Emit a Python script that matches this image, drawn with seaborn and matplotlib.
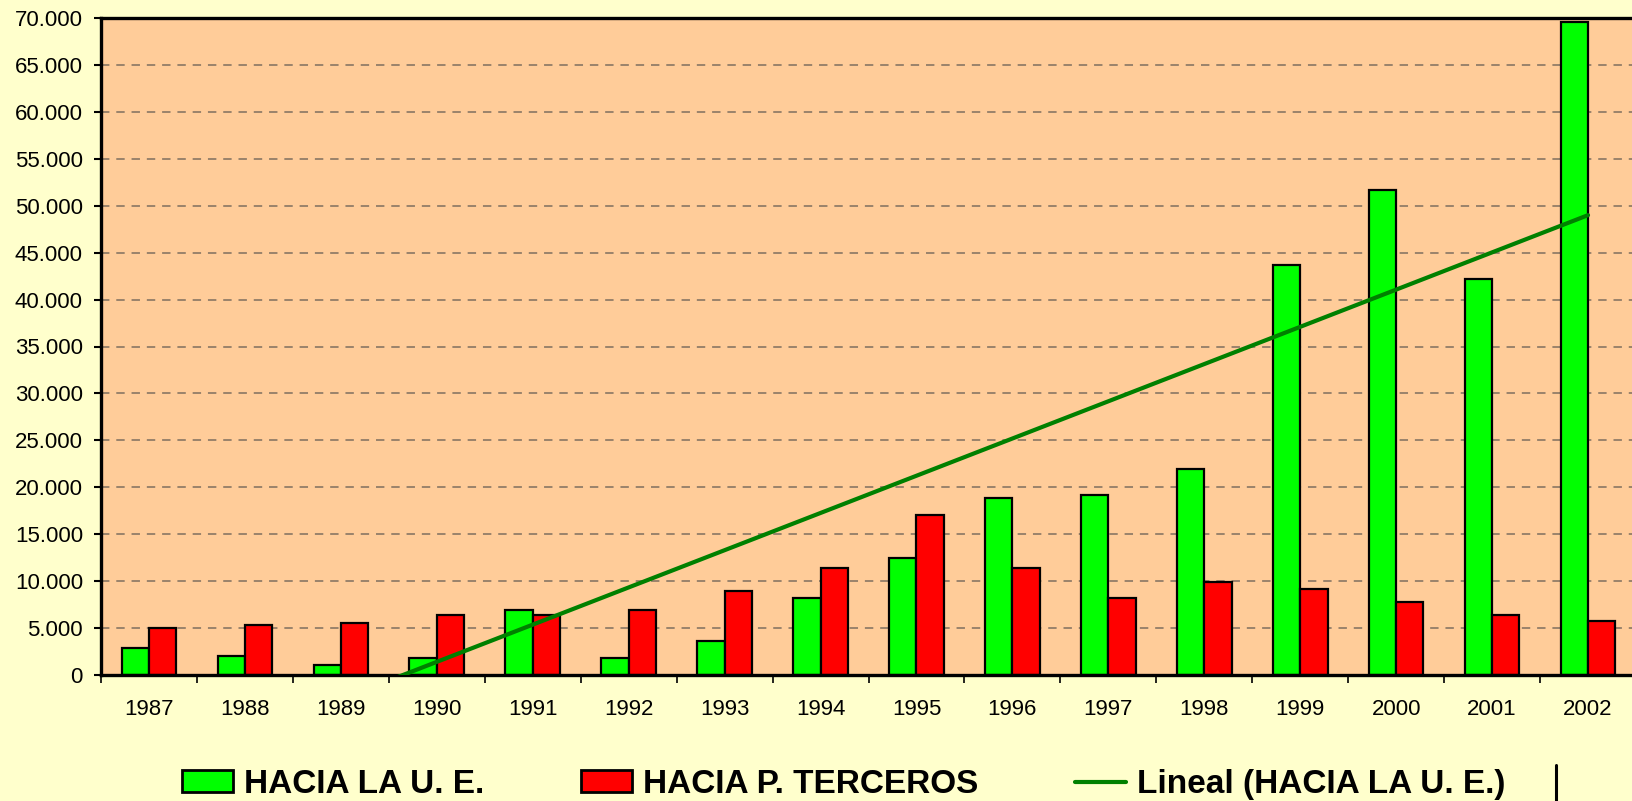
import numpy as np
import pandas as pd
import matplotlib.pyplot as plt
from matplotlib.patches import Patch
from matplotlib.lines import Line2D
from matplotlib.ticker import FuncFormatter, FixedLocator
import seaborn as sns

sns.set_style("white")
plt.rcParams["font.family"] = ["Liberation Sans", "DejaVu Sans"]
plt.rcParams["text.color"] = "black"
plt.rcParams["xtick.color"] = "black"
plt.rcParams["ytick.color"] = "black"

years = [str(y) for y in range(1987, 2003)]
hacia_ue = [2900, 2000, 1100, 1835, 6900, 1835, 3650, 8180,
            12500, 18900, 19130, 21900, 43680, 51640, 42240, 69560]
hacia_terceros = [5000, 5290, 5500, 6440, 6440, 6900, 8960, 11390,
                  17030, 11390, 8210, 9870, 9160, 7830, 6400, 5750]
series_names = ["HACIA LA U. E.", "HACIA P. TERCEROS"]
trend_label = "Lineal (HACIA LA U. E.)"

df = pd.DataFrame({
    "year": years * 2,
    "value": hacia_ue + hacia_terceros,
    "serie": [series_names[0]] * len(years) + [series_names[1]] * len(years),
})

fig = plt.figure(figsize=(16.32, 8.01), dpi=100)
fig.patch.set_facecolor("#FFFFCC")
ax = fig.add_axes([101 / 1632, 1 - 675 / 801, 1535 / 1632, (675 - 18) / 801])
ax.set_facecolor("#FFCC99")

palette = {series_names[0]: "#00FF00", series_names[1]: "#FF0000"}
sns.barplot(data=df, x="year", y="value", hue="serie", palette=palette,
            width=0.57, edgecolor="black", linewidth=1.6, saturation=1,
            legend=False, ax=ax)

# linear trend of the EU series (Excel style trendline)
idx = np.arange(len(years))
slope, intercept = np.polyfit(idx, hacia_ue, 1)
ax.plot(idx, slope * idx + intercept, color="#008000", lw=3, zorder=5)

ax.set_xlim(-0.5, len(years) - 0.5)
ax.set_ylim(0, 70000)
ax.set_xlabel("")
ax.set_ylabel("")

ax.set_yticks(np.arange(0, 70001, 5000))
ax.yaxis.set_major_formatter(FuncFormatter(lambda v, p: f"{v:,.0f}".replace(",", ".")))
ax.tick_params(axis="y", direction="out", length=5, width=1.5, labelsize=16,
               pad=8, left=True, colors="black")
ax.tick_params(axis="x", which="major", length=0, labelsize=16, pad=17,
               colors="black")
ax.xaxis.set_minor_locator(FixedLocator(np.arange(-0.5, len(years), 1.0)))
ax.tick_params(axis="x", which="minor", direction="out", length=6, width=1.2,
               bottom=True, color="black")

ax.set_axisbelow(True)
for v in range(5000, 70000, 5000):
    ax.axhline(v, color="#7F6F5F", lw=1.1, ls=(0, (5.5, 4.5)), zorder=0)

for side in ["left", "bottom", "top"]:
    ax.spines[side].set_color("black")
    ax.spines[side].set_linewidth(2.4)
ax.spines["right"].set_visible(False)

handles = [
    Patch(facecolor="#00FF00", edgecolor="black", linewidth=2),
    Patch(facecolor="#FF0000", edgecolor="black", linewidth=2),
    Line2D([0], [0], color="#008000", lw=3),
]
leg = fig.legend(handles, series_names + [trend_label], loc="center",
                 bbox_to_anchor=(0.517, 0.021), ncol=3, frameon=False,
                 prop={"weight": "bold", "size": 24}, handlelength=1.52,
                 handleheight=0.6, handletextpad=0.34, columnspacing=2.9)
for t in leg.get_texts():
    t.set_color("black")
fig.add_artist(Line2D([1556 / 1632, 1556 / 1632], [0, 1 - 765 / 801],
                      color="black", lw=2.2))

plt.savefig("out.png", dpi=100, facecolor=fig.get_facecolor())
